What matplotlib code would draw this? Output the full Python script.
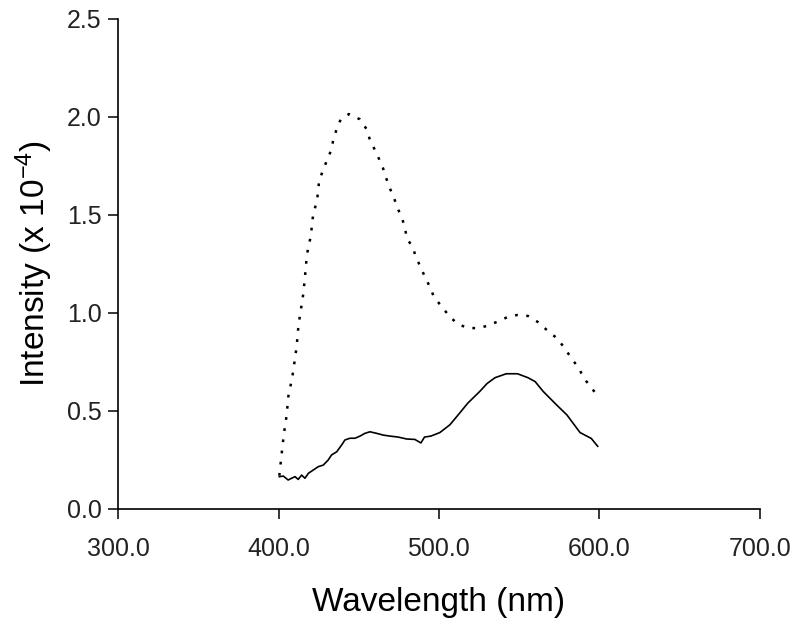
import matplotlib
matplotlib.use("Agg")
import matplotlib.pyplot as plt

plt.rcParams['font.family'] = ['Liberation Sans', 'DejaVu Sans']
plt.rcParams['mathtext.fontset'] = 'custom'
plt.rcParams['mathtext.rm'] = 'Liberation Sans'
plt.rcParams['mathtext.it'] = 'Liberation Sans'

# dotted spectrum
dot_nm = [400.5, 402, 403.4, 405.1, 406.1, 407.6, 408.8, 410.3, 411.3, 412.3,
          413.4, 414.4, 415.5, 416.5, 417.6, 418.6, 420.1, 421.3, 422.7, 424.2,
          425.4, 428.3, 430.4, 433.1, 434.1, 436.2, 438.8, 443.9, 450.8, 455,
          457, 460.1, 462.8, 465.2, 467.4, 469.5, 472, 474.5, 477, 478.8,
          480, 483.8, 485.7, 488.8, 491.3, 494.4, 496.9, 501.9, 506.9, 511.8,
          518, 524.3, 530, 536, 543, 549, 555.5, 561.7, 568, 573.5,
          578.5, 582.9, 587.2, 590.3, 595.3, 599.7]
dot_val = [0.17, 0.284, 0.386, 0.48, 0.573, 0.633, 0.684, 0.769, 0.828, 0.922,
           0.99, 1.04, 1.10, 1.185, 1.287, 1.338, 1.389, 1.483, 1.534, 1.585,
           1.679, 1.738, 1.784, 1.835, 1.883, 1.937, 1.988, 2.015, 1.988, 1.937,
           1.883, 1.832, 1.784, 1.738, 1.682, 1.635, 1.587, 1.53, 1.485, 1.434,
           1.383, 1.332, 1.286, 1.23, 1.184, 1.133, 1.082, 1.031, 0.98, 0.944,
           0.923, 0.923, 0.934, 0.954, 0.98, 0.99, 0.985, 0.954, 0.908, 0.872,
           0.82, 0.765, 0.72, 0.668, 0.617, 0.566]

# solid spectrum
sol_nm = [400.5, 403, 406, 408.2, 410.3, 412.3, 414.4, 416.5, 418.6, 421.7,
          424.8, 427.9, 431.0, 433.1, 436.3, 439.4, 441.4, 444.5, 447.7, 450.8,
          453.9, 457, 461.2, 465.3, 469.5, 474.6, 480, 485, 488.8, 491,
          495, 500.6, 506.9, 513, 518, 525.5, 530, 535, 542, 549,
          555.5, 560, 565, 573.5, 579.8, 588, 595, 599]
sol_val = [0.165, 0.168, 0.148, 0.157, 0.165, 0.151, 0.173, 0.157, 0.182, 0.199,
           0.216, 0.224, 0.25, 0.276, 0.292, 0.327, 0.352, 0.361, 0.361, 0.372,
           0.386, 0.394, 0.386, 0.377, 0.372, 0.367, 0.357, 0.355, 0.337, 0.367,
           0.372, 0.39, 0.43, 0.49, 0.54, 0.60, 0.64, 0.67, 0.69, 0.69,
           0.67, 0.65, 0.60, 0.53, 0.48, 0.39, 0.36, 0.32]

xticks = [300, 400, 500, 600, 700]
yticks = [0.0, 0.5, 1.0, 1.5, 2.0, 2.5]

fig = plt.figure(figsize=(7.98, 6.25), dpi=100)
ax = fig.add_axes([0.148, 0.1856, 0.804, 0.784])

ax.plot(dot_nm, dot_val, color='black', linewidth=1.8, linestyle=(0, (1.1, 3.4)))
ax.plot(sol_nm, sol_val, color='black', linewidth=1.2)

ax.set_xlim(300, 700)
ax.set_ylim(0, 2.5)
ax.set_xticks(xticks)
ax.set_xticklabels(['%.1f' % v for v in xticks])
ax.set_yticks(yticks)
ax.set_yticklabels(['%.1f' % v for v in yticks])

for s in ['top', 'right']:
    ax.spines[s].set_visible(False)
for s in ['left', 'bottom']:
    ax.spines[s].set_linewidth(1.2)
ax.tick_params(axis='both', direction='out', length=7, width=1.1, labelsize=18,
               color='black', labelcolor='#222222')
ax.tick_params(axis='x', pad=13)
ax.tick_params(axis='y', pad=5)

ax.set_xlabel('Wavelength (nm)', fontsize=24, labelpad=19)
ax.set_ylabel('Intensity (x 10$^{-4}$)', fontsize=24, labelpad=8)

fig.savefig('out.png', dpi=100)
